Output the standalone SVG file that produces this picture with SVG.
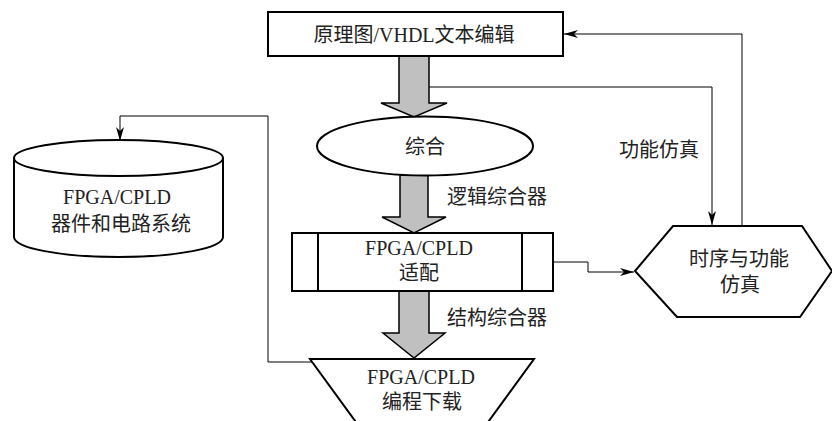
<svg xmlns="http://www.w3.org/2000/svg" width="832" height="421" viewBox="0 0 832 421">
<defs>
<style>
.node{fill:#fff;stroke:#000;stroke-width:2}
.thin{fill:none;stroke:#000;stroke-width:1}
.big{fill:#c0c0c0;stroke:#000;stroke-width:1.5}
text{font-family:"Liberation Serif","Noto Sans CJK SC",serif;font-size:20px;fill:#222;text-anchor:middle;dominant-baseline:central}
</style>
<marker id="ah" viewBox="0 0 14 8" refX="14" refY="4" markerWidth="14" markerHeight="8" markerUnits="userSpaceOnUse" orient="auto">
<path d="M0,0 L14,4 L0,8 L4,4 Z" fill="#000"/>
</marker>
</defs>
<g id="connectors">
<polyline class="thin" points="429,87 712,87 712,225" marker-end="url(#ah)"/>
<polyline class="thin" points="742,226 742,34 564,34" marker-end="url(#ah)"/>
<polyline class="thin" points="553,262 588,262 588,272 634,272" marker-end="url(#ah)"/>
<polyline class="thin" points="334,362 268,362 268,116 120,116 120,141" marker-end="url(#ah)"/>
<path class="big" d="M399,56 L429,56 L429,103 L447,103 L414,117 L381,103 L399,103 Z"/>
<path class="big" d="M400,175 L428,175 L428,217 L446,217 L414,233 L382,217 L400,217 Z"/>
<path class="big" d="M399,291 L429,291 L429,333 L445,333 L414,358 L383,333 L399,333 Z"/>
</g>
<g id="edit">
<rect class="node" x="268" y="12" width="295" height="44"/>
<text x="414" y="35">原理图/VHDL文本编辑</text>
</g>
<g id="synth">
<ellipse class="node" cx="425" cy="146" rx="108" ry="29.5"/>
<text x="425" y="147">综合</text>
</g>
<g id="fit">
<rect class="node" x="292" y="233" width="261" height="58"/>
<line class="node" x1="318" y1="233" x2="318" y2="291"/>
<line class="node" x1="522" y1="233" x2="522" y2="291"/>
<text x="419" y="248">FPGA/CPLD</text>
<text x="419" y="273">适配</text>
</g>
<g id="download">
<polygon class="node" points="310,359 534,359 475,440 369,440"/>
<text x="421" y="377">FPGA/CPLD</text>
<text x="422" y="402">编程下载</text>
</g>
<g id="sim">
<polygon class="node" points="673,226 802,226 832,271 800,317 677,317 635,271"/>
<text x="739" y="259">时序与功能</text>
<text x="740" y="285">仿真</text>
</g>
<g id="device">
<path class="node" d="M14,158 L14,237 A104.5,20 0 0 0 223,237 L223,158"/>
<ellipse class="node" cx="118.5" cy="158" rx="104.5" ry="18"/>
<text x="117" y="197">FPGA/CPLD</text>
<text x="121" y="224">器件和电路系统</text>
</g>
<g id="labels">
<text x="659" y="150">功能仿真</text>
<text x="497" y="197">逻辑综合器</text>
<text x="497" y="318">结构综合器</text>
</g>
</svg>
